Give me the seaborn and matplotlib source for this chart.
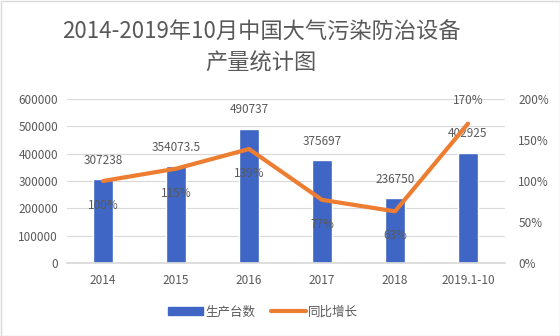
import matplotlib
matplotlib.use("Agg")
import matplotlib.pyplot as plt
import seaborn as sns
import pandas as pd
from matplotlib.patches import Rectangle
from matplotlib.lines import Line2D

categories = ["2014", "2015", "2016", "2017", "2018", "2019.1-10"]
production = [307238, 354073.5, 490737, 375697, 236750, 402925]
production_labels = ["307238", "354073.5", "490737", "375697", "236750", "402925"]
growth = [1.00, 1.15, 1.39, 0.77, 0.63, 1.70]
growth_labels = ["100%", "115%", "139%", "77%", "63%", "170%"]
left_ticks = [0, 100000, 200000, 300000, 400000, 500000, 600000]
right_ticks = [0, 0.5, 1.0, 1.5, 2.0]
right_tick_labels = ["0%", "50%", "100%", "150%", "200%"]

sns.set_theme(style="white")
plt.rcParams['font.family'] = ['Noto Sans CJK SC', 'DejaVu Sans']

df = pd.DataFrame({"year": categories, "prod": production, "growth": growth})

fig = plt.figure(figsize=(5.6, 3.36), dpi=100)
W, H = 560, 336
ax = fig.add_axes([66.5 / W, 1 - 263 / H, (504.5 - 66.5) / W, (263 - 99) / H])

text_col = "#595959"
bar_col = "#3F66C4"
line_col = "#ED7D31"

sns.barplot(data=df, x="year", y="prod", ax=ax, color=bar_col, width=0.27,
            saturation=1, zorder=2)
ax.set_ylim(0, 600000)
ax.set_yticks(left_ticks)
ax.set_yticklabels([str(t) for t in left_ticks], color=text_col, fontsize=8.5)
ax.set_xlabel("")
ax.set_ylabel("")
ax.tick_params(axis="x", colors=text_col, labelsize=8.5, length=0, pad=8)
ax.tick_params(axis="y", length=0, pad=6)
ax.grid(axis="y", color="#D9D9D9", linewidth=0.8, zorder=0)
for s in ["top", "right", "left"]:
    ax.spines[s].set_visible(False)
ax.spines["bottom"].set_color("#D9D9D9")

ax2 = ax.twinx()
sns.lineplot(x=list(range(len(categories))), y=growth, ax=ax2, color=line_col,
             linewidth=3, zorder=3)
ax2.set_ylim(0, 2.0)
ax2.set_yticks(right_ticks)
ax2.set_yticklabels(right_tick_labels, color=text_col, fontsize=8.5)
ax2.tick_params(axis="y", length=0, pad=10)
for s in ["top", "right", "left", "bottom"]:
    ax2.spines[s].set_visible(False)
ax2.set_xlim(-0.5, len(categories) - 0.5)
ax.set_xlim(-0.5, len(categories) - 0.5)

for i, (v, lab) in enumerate(zip(production, production_labels)):
    ax.annotate(lab, (i, v), xytext=(0, 9), textcoords="offset points",
                ha="center", va="bottom", fontsize=8.5, color=text_col, zorder=5)
for i, (g, lab) in enumerate(zip(growth, growth_labels)):
    off = 12 if i == len(growth) - 1 else -13
    va = "bottom" if off > 0 else "top"
    ax2.annotate(lab, (i, g), xytext=(0, off), textcoords="offset points",
                 ha="center", va=va, fontsize=8.5, color=text_col, zorder=5)

fig.text(261 / W, 1 - 32 / H, "2014-2019年10月中国大气污染防治设备", ha="center", va="center",
         fontsize=16, color=text_col)
fig.text(261 / W, 1 - 63 / H, "产量统计图", ha="center", va="center",
         fontsize=16, color=text_col)

handles = [Rectangle((0, 0), 1, 1, color=bar_col),
           Line2D([0], [0], color=line_col, linewidth=3)]
fig.legend(handles, ["生产台数", "同比增长"], loc="center", bbox_to_anchor=(263 / W, 1 - 312 / H),
           ncol=2, frameon=False, fontsize=9, labelcolor=text_col,
           handlelength=2.8, handleheight=0.6, columnspacing=1.2, handletextpad=0.2)

fig.patches.append(Rectangle((0.5 / W, 0.5 / H), 1 - 1 / W, 1 - 1 / H, transform=fig.transFigure,
                             fill=False, edgecolor="#D9D9D9", linewidth=1))

fig.savefig("out.png", dpi=100)
